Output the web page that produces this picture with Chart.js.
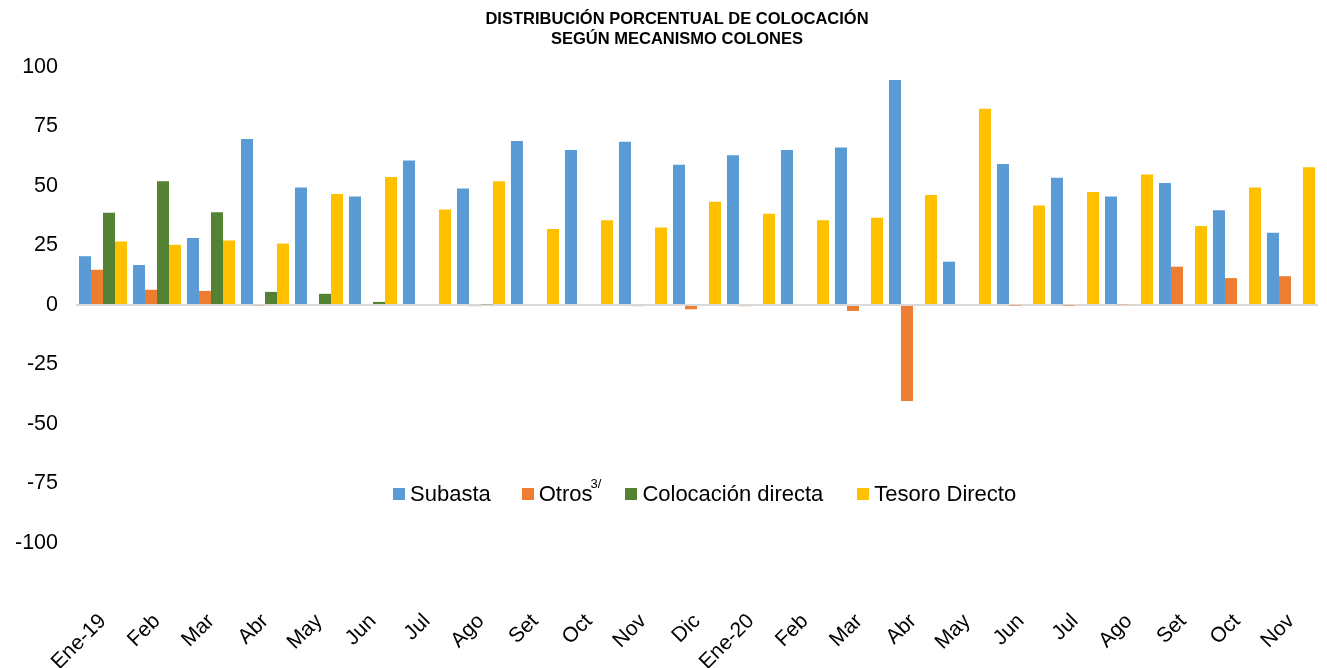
<!DOCTYPE html>
<html>
<head>
<meta charset="utf-8">
<script src="https://cdn.jsdelivr.net/npm/chart.js@4.4.1/dist/chart.umd.min.js"></script>
<style>
  body { margin: 0; background: #fff; }
  #wrap { position: relative; width: 1327px; height: 668px; }
  #legend {
    position: absolute; left: 393px; top: 481px;
    display: flex; align-items: center;
    font-family: 'Liberation Sans', Arial, sans-serif; font-size: 22px; color: #000;
    white-space: nowrap;
  }
  .item { display: flex; align-items: center; }
  .box { width: 12px; height: 12px; margin-right: 5px; }
  sup { font-size: 13px; position: relative; top: -5px; margin-left: -2px; }
</style>
</head>
<body>
<div id="wrap">
  <canvas id="chart"></canvas>
  <div id="legend"></div>
</div>
<script>
const months = ['Ene-19', 'Feb', 'Mar', 'Abr', 'May', 'Jun', 'Jul', 'Ago', 'Set', 'Oct', 'Nov', 'Dic',
                'Ene-20', 'Feb', 'Mar', 'Abr', 'May', 'Jun', 'Jul', 'Ago', 'Set', 'Oct', 'Nov'];

const subasta  = [20.5, 16.8, 28.2, 69.8, 49.4, 45.6, 60.7, 49.0, 68.9, 65.1, 68.6, 58.9,
                  62.9, 65.1, 66.2, 94.5, 18.2, 59.2, 53.5, 45.6, 51.3, 39.8, 30.4];
const otros    = [14.8, 6.4, 5.9, -0.3, 0, 0, 0, -0.5, 0, 0, -0.5, -1.8,
                  -0.5, 0, -2.5, -40.3, 0, -0.2, -0.2, 0.3, 16.1, 11.3, 12.1];
const directa  = [38.8, 52.0, 39.0, 5.5, 4.7, 1.3, 0, 0.3, 0, 0, 0, 0,
                  0, 0, 0, 0, 0, 0, 0, 0, 0, 0, 0];
const tesoro   = [26.7, 25.3, 27.1, 25.8, 46.6, 53.8, 40.1, 52.0, 31.9, 35.6, 32.6, 43.4,
                  38.3, 35.6, 36.7, 46.2, 82.5, 41.8, 47.5, 54.8, 33.2, 49.4, 57.9];

const yTicks = [100, 75, 50, 25, 0, -25, -50, -75, -100];
const titleLines = ['DISTRIBUCIÓN PORCENTUAL DE COLOCACIÓN', 'SEGÚN MECANISMO COLONES'];

const series = [
  { label: 'Subasta', sup: '', data: subasta, color: '#5B9BD5', gap: 31 },
  { label: 'Otros', sup: '3/', data: otros, color: '#ED7D31', gap: 24 },
  { label: 'Colocación directa', sup: '', data: directa, color: '#548235', gap: 34 },
  { label: 'Tesoro Directo', sup: '', data: tesoro, color: '#FFC000', gap: 0 }
];

Chart.defaults.font.family = "'Liberation Sans', Arial, sans-serif";
Chart.defaults.color = '#000';

// legend sits inside the plot, so it is plain html laid over the canvas
const legendEl = document.getElementById('legend');
series.forEach(s => {
  const item = document.createElement('div');
  item.className = 'item';
  item.style.marginRight = s.gap + 'px';
  item.innerHTML = '<span class="box" style="background:' + s.color + '"></span>' +
    '<span>' + s.label + (s.sup ? '<sup>' + s.sup + '</sup>' : '') + '</span>';
  legendEl.appendChild(item);
});

// title is a bit right of the canvas centre in the original
const titlePlugin = {
  id: 'titleText',
  afterDraw(chart) {
    const ctx = chart.ctx;
    ctx.save();
    ctx.font = "bold 16.5px 'Liberation Sans', Arial, sans-serif";
    ctx.fillStyle = '#000';
    ctx.textAlign = 'center';
    ctx.textBaseline = 'middle';
    titleLines.forEach((t, i) => ctx.fillText(t, 677, 19 + i * 20.5));
    ctx.restore();
  }
};

new Chart(document.getElementById('chart'), {
  type: 'bar',
  data: {
    labels: months,
    datasets: series.map(s => ({
      label: s.label,
      data: s.data,
      backgroundColor: s.color,
      borderWidth: 0,
      categoryPercentage: 0.89,
      barPercentage: 1
    }))
  },
  plugins: [titlePlugin],
  options: {
    responsive: true,
    maintainAspectRatio: false,
    animation: false,
    layout: { padding: { left: 0, right: 9, top: 67, bottom: 0 } },
    plugins: {
      legend: { display: false },
      tooltip: { enabled: false },
      title: { display: false }
    },
    scales: {
      x: {
        grid: { display: false },
        border: { display: false },
        ticks: {
          autoSkip: false,
          minRotation: 45,
          maxRotation: 45,
          padding: 58,
          font: { size: 21 }
        },
        afterFit: scale => {
          scale.height = 125;
          scale.paddingLeft = 0;
          scale.paddingRight = 0;
        }
      },
      y: {
        min: -100,
        max: 100,
        afterBuildTicks: scale => { scale.ticks = yTicks.map(v => ({ value: v })); },
        grid: {
          drawTicks: false,
          lineWidth: 2,
          color: ctx => ctx.tick && ctx.tick.value === 0 ? '#D9D9D9' : 'rgba(0,0,0,0)'
        },
        border: { display: false },
        ticks: { padding: 18, font: { size: 21.5 } },
        afterFit: scale => {
          scale.width = 76;
          scale.paddingTop = 0;
          scale.paddingBottom = 0;
        }
      }
    }
  }
});
</script>
</body>
</html>
